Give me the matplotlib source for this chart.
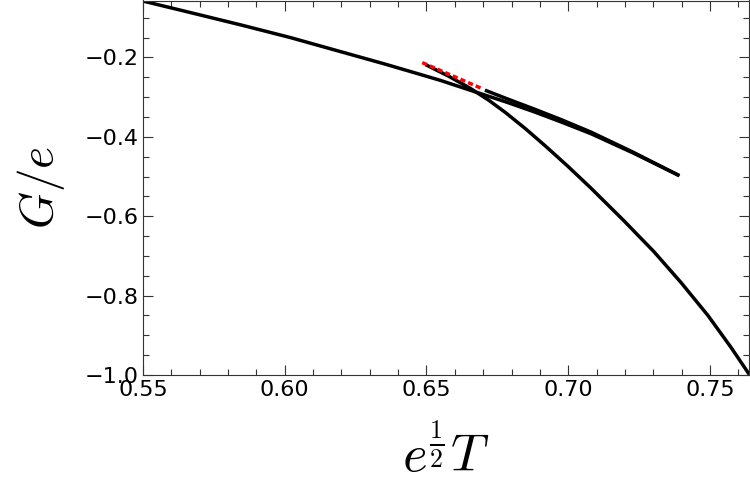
import matplotlib
matplotlib.use("Agg")
import matplotlib.pyplot as plt
from matplotlib.ticker import MultipleLocator

# branch running from the top-left corner to the cusp
t_small = [0.550, 0.565, 0.585, 0.602, 0.620, 0.635, 0.646, 0.655, 0.669,
           0.678, 0.688, 0.6973, 0.708, 0.723, 0.7387]
g_small = [-0.058, -0.084, -0.119, -0.150, -0.186, -0.216, -0.239, -0.258,
           -0.291, -0.312, -0.337, -0.362, -0.392, -0.441, -0.496]

# short branch coming back from the cusp
t_mid = [0.6712, 0.678, 0.688, 0.6973, 0.708, 0.723, 0.7387]
g_mid = [-0.284, -0.303, -0.330, -0.356, -0.388, -0.439, -0.496]

# red dashed piece
t_red = [0.6485, 0.6691]
g_red = [-0.213, -0.277]

# steep branch down to the bottom-right corner
t_large = [0.6502, 0.6580, 0.6655, 0.6720, 0.6779, 0.6850, 0.6921, 0.7000,
           0.7080, 0.7196, 0.7302, 0.7398, 0.7493, 0.7574, 0.7645]
g_large = [-0.220, -0.248, -0.278, -0.308, -0.339, -0.380, -0.424, -0.475,
           -0.529, -0.611, -0.689, -0.767, -0.850, -0.930, -1.005]

x_ticks = [0.55, 0.60, 0.65, 0.70, 0.75]
y_ticks = [-1.0, -0.8, -0.6, -0.4, -0.2]

plt.rcParams['mathtext.fontset'] = 'cm'
plt.rcParams['font.family'] = ['DejaVu Sans']

fig = plt.figure(figsize=(7.5, 5), dpi=100)
ax = fig.add_axes([0.1907, 0.25, 0.8080, 0.749])

lw = 2.5
ax.plot(t_small, g_small, color='black', lw=lw)
ax.plot(t_mid, g_mid, color='black', lw=lw)
ax.plot(t_large, g_large, color='black', lw=lw)
ax.plot(t_red, g_red, color='red', lw=lw, linestyle=(0, (1.5, 0.9)), zorder=5)

ax.set_xlim(0.55, 0.7638)
ax.set_ylim(-1.0, -0.0566)

ax.set_xticks(x_ticks)
ax.set_xticklabels([f"{v:.2f}" for v in x_ticks])
ax.set_yticks(y_ticks)
ax.set_yticklabels([f"\u2212{abs(v):.1f}" for v in y_ticks])
ax.xaxis.set_minor_locator(MultipleLocator(0.01))
ax.yaxis.set_minor_locator(MultipleLocator(0.05))
ax.tick_params(which='both', direction='in', top=True, right=True,
               labelsize=16, color='#333333')
ax.tick_params(which='major', length=7, width=0.8)
ax.tick_params(which='minor', length=4, width=0.8)
for s in ax.spines.values():
    s.set_color('#333333')

ax.set_xlabel(r'$e^{\frac{1}{2}}T$', fontsize=38)
ax.set_ylabel(r'$G/e$', fontsize=34)
ax.xaxis.set_label_coords(0.5, -0.137)
ax.yaxis.set_label_coords(-0.125, 0.5)

fig.savefig('out.png', dpi=100)
